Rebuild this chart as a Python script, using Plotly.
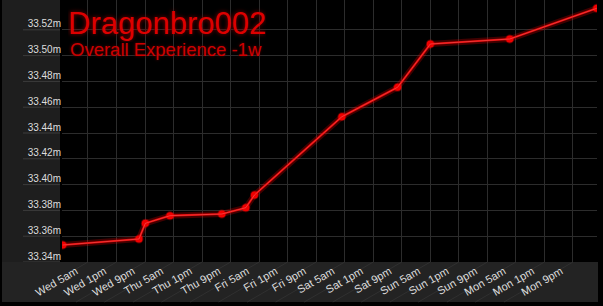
import plotly.graph_objects as go
from datetime import datetime, timedelta

# ---- data ----
times = ["2024-01-02 21:54", "2024-01-03 19:18", "2024-01-03 21:05", "2024-01-04 04:00",
         "2024-01-04 18:32", "2024-01-05 01:16", "2024-01-05 03:41", "2024-01-06 04:12",
         "2024-01-06 19:49", "2024-01-07 05:00", "2024-01-08 03:16", "2024-01-09 03:40"]
xp = [33353180, 33357830, 33370000, 33375890, 33377210, 33382090, 33391940,
      33452640, 33475430, 33509000, 33512870, 33536670]

x_tick_labels = ["Wed 5am", "Wed 1pm", "Wed 9pm", "Thu 5am", "Thu 1pm", "Thu 9pm",
                 "Fri 5am", "Fri 1pm", "Fri 9pm", "Sat 5am", "Sat 1pm", "Sat 9pm",
                 "Sun 5am", "Sun 1pm", "Sun 9pm", "Mon 5am", "Mon 1pm", "Mon 9pm"]
first_tick = "2024-01-03 05:00"
tick_step_hours = 8
y_tick_vals = [33340000, 33360000, 33380000, 33400000, 33420000, 33440000,
               33460000, 33480000, 33500000, 33520000]
y_tick_labels = ["33.34m", "33.36m", "33.38m", "33.40m", "33.42m", "33.44m",
                 "33.46m", "33.48m", "33.50m", "33.52m"]
x_range = ["2024-01-02 21:43", "2024-01-09 03:44"]
y_range = [33340000, 33543100]

title_text = "Dragonbro002"
subtitle_text = "Overall Experience -1w"

# ---- figure ----
t0 = datetime.strptime(first_tick, "%Y-%m-%d %H:%M")
x_tick_vals = [(t0 + timedelta(hours=tick_step_hours * i)).strftime("%Y-%m-%d %H:%M")
               for i in range(len(x_tick_labels))]

W, H = 603, 306
ml, mr, mt, mb = 62, 6, 0, 44
pw, ph = W - ml - mr, H - mt - mb

xr0 = datetime.strptime(x_range[0], "%Y-%m-%d %H:%M")
xr1 = datetime.strptime(x_range[1], "%Y-%m-%d %H:%M")
px_per_hour = pw / ((xr1 - xr0).total_seconds() / 3600)

fig = go.Figure()
fig.add_trace(go.Scatter(x=times, y=xp, mode="lines",
                         line=dict(color="rgba(255,0,0,0.25)", width=6),
                         hoverinfo="skip", showlegend=False))
fig.add_trace(go.Scatter(x=times, y=xp, mode="lines+markers",
                         line=dict(color="#e00000", width=2.2),
                         marker=dict(color="#ee0000", size=7,
                                     line=dict(color="rgba(255,0,0,0.35)", width=2)),
                         showlegend=False))
fig.add_trace(go.Scatter(x=times, y=xp, mode="lines",
                         line=dict(color="rgba(255,140,140,0.5)", width=0.8),
                         hoverinfo="skip", showlegend=False))

shapes = []
# left grey panel
shapes.append(dict(type="rect", xref="paper", yref="paper",
                   x0=(2 - ml) / pw, x1=(60 - ml) / pw, y0=0, y1=1,
                   fillcolor="#1e1e1e", line=dict(width=0), layer="below"))
# bottom grey band
shapes.append(dict(type="rect", xref="paper", yref="paper",
                   x0=(2 - ml) / pw, x1=(598 - ml) / pw, y0=-40 / ph, y1=0,
                   fillcolor="#232323", line=dict(width=0), layer="below"))
# label underlines on left panel
for v in y_tick_vals:
    shapes.append(dict(type="line", xref="paper", yref="y",
                       x0=(23 - ml) / pw, x1=(60 - ml) / pw, y0=v, y1=v,
                       line=dict(color="#3c3c3c", width=1), layer="above"))
# slanted tick guides in bottom band
for tv in x_tick_vals:
    t = datetime.strptime(tv, "%Y-%m-%d %H:%M")
    tb = t - timedelta(hours=69 / px_per_hour)
    shapes.append(dict(type="line", xref="x", yref="paper",
                       x0=tv, x1=tb.strftime("%Y-%m-%d %H:%M:%S"), y0=0, y1=-40 / ph,
                       line=dict(color="#303030", width=1), layer="below"))

fig.update_layout(
    width=W, height=H,
    margin=dict(l=ml, r=mr, t=mt, b=mb),
    paper_bgcolor="#000000", plot_bgcolor="#000000",
    font=dict(family="Liberation Sans, Arial, sans-serif", color="#dddddd", size=10),
    shapes=shapes,
    xaxis=dict(range=x_range, type="date", tickmode="array", tickvals=x_tick_vals,
               ticktext=x_tick_labels, tickangle=-30, showgrid=True, gridcolor="#2c2c2c",
               gridwidth=1, zeroline=False, showline=False, ticks="",
               ticklabelshift=-12, ticklabelstandoff=0,
               tickfont=dict(size=11, color="#dddddd"), fixedrange=True),
    yaxis=dict(range=y_range, tickmode="array", tickvals=y_tick_vals,
               ticktext=y_tick_labels, showgrid=True, gridcolor="#2c2c2c",
               zeroline=False, showline=False, ticks="", ticklabelshift=-6,
               tickfont=dict(size=10, color="#dddddd"), fixedrange=True),
    annotations=[
        dict(text=title_text, xref="paper", yref="paper", x=(66 - ml) / pw, y=1,
             xanchor="left", yanchor="top", yshift=-4, showarrow=False,
             height=36, valign="top",
             font=dict(size=31, color="#dd0000", family="Liberation Sans, Arial, sans-serif",
                       shadow="0px 0px 4px #880000")),
        dict(text=subtitle_text, xref="paper", yref="paper", x=(68 - ml) / pw, y=1,
             xanchor="left", yanchor="top", yshift=-37, showarrow=False,
             font=dict(size=18.5, color="#cc0000", family="Liberation Sans, Arial, sans-serif",
                       shadow="0px 0px 3px #660000")),
    ],
    showlegend=False,
)

fig.write_html("out.html", config={"displayModeBar": False})
